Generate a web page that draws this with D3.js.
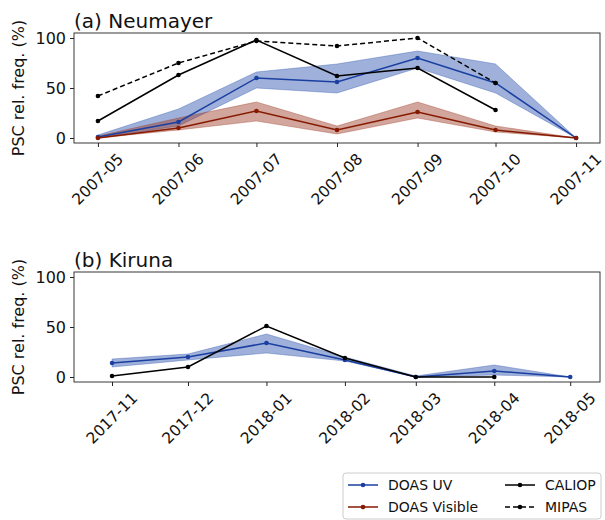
<!DOCTYPE html>
<html>
<head>
<meta charset="utf-8">
<title>PSC relative frequency</title>
<script src="https://d3js.org/d3.v7.min.js"></script>
<style>
  body { margin: 0; background: #fff; }
  svg { font-family: "DejaVu Sans", sans-serif; }
</style>
</head>
<body>
<div id="chart"></div>
<script>
// ---- data ----
const monthsA = ["2007-05", "2007-06", "2007-07", "2007-08", "2007-09", "2007-10", "2007-11"];
const uvA     = [1, 16, 60, 56, 80, 55, 0];
const uvA_lo  = [0, 12, 50, 45, 70, 45, 0];
const uvA_hi  = [3, 29, 66, 74, 87, 74, 0];
const visA    = [0, 10, 27, 8, 26, 8, 0];
const visA_lo = [0, 8, 17, 4, 20, 6, 0];
const visA_hi = [2, 20, 36, 12, 36, 12, 0];
const caliopA = [17, 63, 98, 62, 70, 28, null];
const mipasA  = [42, 75, 97, 92, 100, 55, null];

const monthsB = ["2017-11", "2017-12", "2018-01", "2018-02", "2018-03", "2018-04", "2018-05"];
const uvB     = [14, 20, 34, 17, 0, 6, 0];
const uvB_lo  = [10, 17, 24, 16, 0, 2, 0];
const uvB_hi  = [18, 23, 43, 20, 1, 12, 0];
const caliopB = [1, 10, 51, 19, 0, 0, null];

const yTicks = [0, 50, 100];

const blue = "#1b3fa0", blueFill = "#2a52ad";
const red = "#861a00", redFill = "#9c3a25";

const W = 605, H = 520;
const svg = d3.select("#chart").append("svg").attr("width", W).attr("height", H);

const parse = d3.timeParse("%Y-%m");

function panel(opt) {
  const dates = opt.months.map(parse);
  const first = dates[0], last = dates[dates.length - 1];
  const pad = (last - first) * opt.padL, padR = (last - first) * opt.padR;
  const x = d3.scaleTime()
    .domain([new Date(+first - pad), new Date(+last + padR)])
    .range([74, 600]);
  const y = d3.scaleLinear().domain([-5, 105]).range([opt.bottom, opt.bottom - 110]);

  const g = svg.append("g");

  // bands
  const area = d3.area()
    .x((d, i) => x(dates[i]))
    .y0(d => y(d[0]))
    .y1(d => y(d[1]));
  opt.bands.forEach(b => {
    const pts = b.lo.map((v, i) => [v, b.hi[i]]);
    g.append("path").attr("d", area(pts))
      .attr("fill", b.color).attr("fill-opacity", 0.45)
      .attr("stroke", b.color).attr("stroke-opacity", 0.45).attr("stroke-width", 0.8);
  });

  // lines
  opt.lines.forEach(s => {
    const pts = s.v.map((v, i) => [dates[i], v]).filter(p => p[1] !== null);
    const line = d3.line().x(p => x(p[0])).y(p => y(p[1]));
    g.append("path").attr("d", line(pts))
      .attr("fill", "none").attr("stroke", s.color).attr("stroke-width", 1.5)
      .attr("stroke-dasharray", s.dash || null);
    g.selectAll(null).data(pts).enter().append("circle")
      .attr("cx", p => x(p[0])).attr("cy", p => y(p[1])).attr("r", 2.3)
      .attr("fill", s.color);
  });

  // frame
  g.append("rect").attr("x", 74).attr("y", opt.bottom - 110)
    .attr("width", 526).attr("height", 110)
    .attr("fill", "none").attr("stroke", "#222").attr("stroke-width", 0.9);

  // y axis
  const yAx = g.append("g").attr("transform", "translate(74,0)")
    .call(d3.axisLeft(y).tickValues(yTicks).tickSize(4).tickPadding(4));
  yAx.select(".domain").remove();
  yAx.selectAll("text").attr("font-size", 16).attr("fill", "#111")
    .attr("font-family", "DejaVu Sans");
  yAx.selectAll("line").attr("stroke", "#222");

  // x axis ticks
  const xAx = g.append("g").attr("transform", `translate(0,${opt.bottom})`)
    .call(d3.axisBottom(x).tickValues(dates).tickSize(4).tickFormat(""));
  xAx.select(".domain").remove();
  xAx.selectAll("line").attr("stroke", "#222");

  // rotated tick labels, bounding box centred under the tick
  const fs = 15.5;
  opt.months.forEach((m, i) => {
    const t = g.append("text").text(m).attr("font-size", fs)
      .attr("text-anchor", "middle").attr("dominant-baseline", "central").attr("fill", "#111");
    const w = t.node().getComputedTextLength();
    const bh = (w + fs * 1.0) * Math.SQRT1_2;
    const cx = x(dates[i]), cy = opt.bottom + 8 + bh / 2;
    t.attr("x", cx).attr("y", cy).attr("transform", `rotate(-45,${cx},${cy})`);
  });

  // title + y label
  g.append("text").attr("x", 74).attr("y", opt.bottom - 115)
    .attr("font-size", 20).attr("fill", "#111").text(opt.title);
  g.append("text").attr("transform", `translate(24,${opt.bottom - 55}) rotate(-90)`)
    .attr("text-anchor", "middle").attr("font-size", 16).attr("fill", "#111")
    .text("PSC rel. freq. (%)");
}

panel({
  months: monthsA, bottom: 143, padL: 0.05, padR: 0.05, title: "(a) Neumayer",
  bands: [{ lo: uvA_lo, hi: uvA_hi, color: blueFill }, { lo: visA_lo, hi: visA_hi, color: redFill }],
  lines: [
    { v: uvA, color: blue }, { v: visA, color: red },
    { v: caliopA, color: "#000" }, { v: mipasA, color: "#000", dash: "5,3" }
  ]
});

panel({
  months: monthsB, bottom: 382, padL: 0.083, padR: 0.065, title: "(b) Kiruna",
  bands: [{ lo: uvB_lo, hi: uvB_hi, color: blueFill }],
  lines: [{ v: uvB, color: blue }, { v: caliopB, color: "#000" }]
});

// legend
const legendItems = [
  { name: "DOAS UV", color: blue, col: 0, row: 0 },
  { name: "DOAS Visible", color: red, col: 0, row: 1 },
  { name: "CALIOP", color: "#000", col: 1, row: 0 },
  { name: "MIPAS", color: "#000", col: 1, row: 1, dash: "5,3" }
];
const lg = svg.append("g").attr("transform", "translate(343,473)");
lg.append("rect").attr("width", 258).attr("height", 46).attr("rx", 3)
  .attr("fill", "#fff").attr("stroke", "#ccc");
legendItems.forEach(it => {
  const x0 = 5 + it.col * 157, yy = 12 + it.row * 22;
  lg.append("line").attr("x1", x0).attr("x2", x0 + 30).attr("y1", yy).attr("y2", yy)
    .attr("stroke", it.color).attr("stroke-width", 1.5).attr("stroke-dasharray", it.dash || null);
  lg.append("circle").attr("cx", x0 + 15).attr("cy", yy).attr("r", 2.3).attr("fill", it.color);
  lg.append("text").attr("x", x0 + 40).attr("y", yy).attr("dominant-baseline", "central")
    .attr("font-size", 14).attr("fill", "#111").text(it.name);
});
</script>
</body>
</html>
